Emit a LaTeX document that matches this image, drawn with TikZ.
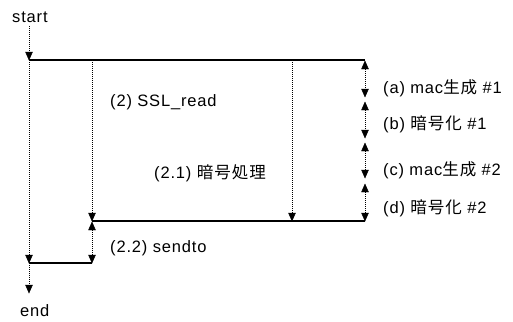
\documentclass[tikz,border=0pt]{standalone}
\usepackage{fontspec}
\setmainfont{Liberation Sans}[LetterSpace=5]
\newfontfamily\cjk{Noto Sans CJK JP}[LetterSpace=6]
\usetikzlibrary{arrows.meta}
\begin{document}
\begin{tikzpicture}[x=1pt,y=-1pt,
  lbl/.style={font=\fontsize{16.5}{19}\selectfont, inner sep=0pt, anchor=west},
  vline/.style={densely dotted, line width=1pt, shorten >=4pt},
  vdline/.style={densely dotted, line width=1pt, shorten >=4pt, shorten <=4pt},
  hline/.style={line width=1.1pt},
  tipfill/.style={fill=black, draw=black, line width=0.4pt, line join=miter}]
\useasboundingbox (0,0) rectangle (513,321);
% coordinates
\coordinate (s0) at (29,26);
\coordinate (tl) at (29,60);
\coordinate (tr) at (365,60);
\coordinate (im) at (92,60);
\coordinate (mm) at (292,60);
\coordinate (ib) at (92,221);
\coordinate (ibu) at (92,222);
\coordinate (mb) at (292,221);
\coordinate (br) at (365,221);
\coordinate (ib2) at (92,263);
\coordinate (ob) at (29,263);
\coordinate (oe) at (29,293);
\coordinate (r1a) at (365,61);
\coordinate (r1b) at (365,97);
\coordinate (r2a) at (365,102);
\coordinate (r2b) at (365,138);
\coordinate (r3a) at (365,143);
\coordinate (r3b) at (365,178);
\coordinate (r4a) at (365,184);
\coordinate (r4b) at (365,221);
% texts
\node[lbl] (start) at (12,17) {start};
\node[lbl] (end) at (20,311) {end};
\node[lbl] (ssl) at (110,102) {(2) SSL\_read};
\node[lbl] (enc) at (154,173) {(2.1) {\cjk 暗号処理}};
\node[lbl] (send) at (110,248) {(2.2) sendto};
\node[lbl] (la) at (383,88) {(a) mac{\cjk 生成} \#1};
\node[lbl] (lb) at (383,124) {(b) {\cjk 暗号化} \#1};
\node[lbl] (lc) at (383,170) {(c) mac{\cjk 生成} \#2};
\node[lbl] (ld) at (383,208) {(d) {\cjk 暗号化} \#2};
% connectors (dotted shafts)
\draw[vline] (s0) -- (tl);
\draw[hline] (tl) -- (tr);
\draw[vline] (tl) -- (ob);
\draw[vline] (ob) -- (oe);
\draw[vline] (im) -- (ib);
\draw[vline] (mm) -- (mb);
\draw[hline] (ib) -- (br);
\draw[vdline] (ibu) -- (ib2);
\draw[hline] (ob) -- (ib2);
\draw[vdline] (r1a) -- (r1b);
\draw[vdline] (r2a) -- (r2b);
\draw[vdline] (r3a) -- (r3b);
\draw[vdline] (r4a) -- (r4b);
% solid arrow tips (filled triangles)
\foreach \p in {tl,ob,oe,ib,mb,ib2,r1b,r2b,r3b,r4b}
  \filldraw[tipfill] (\p) -- ++(-3.5,-8) -- ++(7,0) -- cycle;
\foreach \p in {ibu,r1a,r2a,r3a,r4a}
  \filldraw[tipfill] (\p) -- ++(-3.5,8) -- ++(7,0) -- cycle;
\end{tikzpicture}
\end{document}
